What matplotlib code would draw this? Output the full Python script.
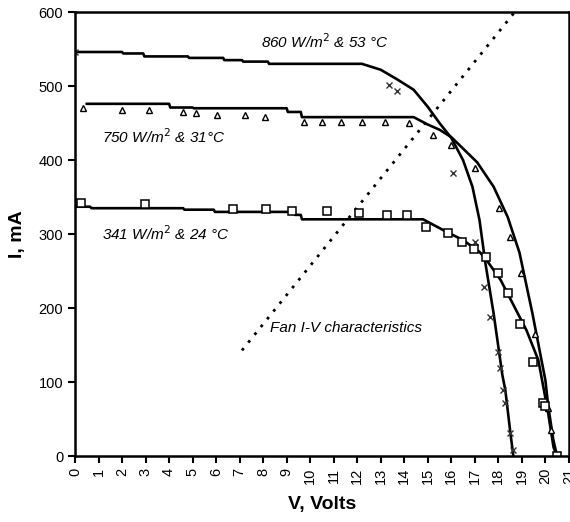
import matplotlib
matplotlib.use("Agg")
import matplotlib.pyplot as plt

plt.rcParams['font.family'] = ['Liberation Sans', 'DejaVu Sans']

# 860 W/m2 & 53 C : model line and measured points (x)
v_860 = [0, 2.0, 2.05, 2.9, 2.95, 4.8, 4.85, 6.3, 6.35, 7.1, 7.15, 8.2, 8.25, 12.2,
         13.0, 13.7, 14.4, 15.0, 15.5, 16.0, 16.5, 16.9, 17.2, 17.45, 17.8, 18.17,
         18.3, 18.5, 18.64]
i_860 = [546, 546, 544, 544, 540, 540, 538, 538, 535, 535, 533, 533, 530, 530,
         522, 509, 495, 472, 450, 430, 400, 364, 319, 261, 193, 110,
         89, 35, 0]
v_860_pts = [0, 13.36, 13.7, 16.09, 17.02, 17.4, 17.66, 18.0, 18.09, 18.21, 18.3, 18.51, 18.64]
i_860_pts = [546, 501, 493, 382, 289, 228, 188, 141, 119, 89, 72, 32, 8]

# 750 W/m2 & 31 C
v_750 = [0.5, 4.0, 4.05, 5.0, 5.05, 9.0, 9.05, 9.6, 9.65, 14.4, 15.0, 15.5, 16.0,
         17.1, 17.8, 18.4, 18.9, 19.45, 20.0, 20.13, 20.34, 20.5]
i_750 = [476, 476, 471, 471, 470, 470, 465, 465, 458, 458, 448, 441, 431,
         397, 364, 323, 275, 193, 103, 66, 22, 0]
v_750_pts = [0.34, 2.0, 3.15, 4.6, 5.15, 6.04, 7.23, 8.09, 9.74, 10.5, 11.3, 12.2,
             13.2, 14.2, 15.23, 16.0, 17.02, 18.04, 18.5, 18.98, 19.57, 20.1, 20.25]
i_750_pts = [470, 468, 468, 465, 463, 461, 461, 458, 451, 451, 451, 451,
             451, 450, 434, 420, 389, 335, 296, 247, 165, 65, 35]

# 341 W/m2 & 24 C
v_341 = [0, 0.64, 0.7, 4.6, 4.65, 5.9, 5.95, 9.3, 9.35, 9.6, 9.65, 14.8,
         15.8, 16.5, 17.2, 17.5, 18.1, 18.6, 19.2, 19.7, 20.1, 20.35, 20.5]
i_341 = [337, 337, 335, 335, 333, 333, 330, 330, 326, 326, 320, 320,
         303, 292, 276, 265, 238, 207, 170, 130, 62, 12, 0]
v_341_pts = [0.26, 2.98, 6.72, 8.13, 9.23, 10.72, 12.09, 13.28, 14.13, 14.94, 15.87,
             16.47, 16.98, 17.49, 18.0, 18.43, 18.94, 19.49, 19.91, 20.0, 20.51]
i_341_pts = [342, 341, 334, 334, 331, 331, 329, 326, 326, 310, 301,
             290, 280, 269, 247, 220, 178, 127, 72, 68, 0]

# fan I-V characteristic (dotted)
v_fan = [7.1, 18.7]
i_fan = [143, 600]

fig = plt.figure(figsize=(5.7, 5.22), dpi=100)
ax = fig.add_axes([0.1316, 0.126, 0.8664, 0.851])

ax.plot(v_fan, i_fan, color='black', linestyle=(0, (1, 2.6)), linewidth=2.0)

ax.plot(v_860, i_860, color='black', linewidth=1.9)
ax.plot(v_750, i_750, color='black', linewidth=1.9)
ax.plot(v_341, i_341, color='black', linewidth=1.9)

ax.plot(v_860_pts, i_860_pts, linestyle='none', marker='x', markersize=5,
        markeredgewidth=1.0, color='#333333')
ax.plot(v_750_pts, i_750_pts, linestyle='none', marker='^', markersize=4.5,
        markerfacecolor='white', markeredgecolor='black', markeredgewidth=1.0)
ax.plot(v_341_pts, i_341_pts, linestyle='none', marker='s', markersize=5.5,
        markerfacecolor='white', markeredgecolor='black', markeredgewidth=1.1)

ax.text(7.9, 560, r'860 W/m$^2$ & 53 °C', fontsize=11, style='italic', va='center')
ax.text(1.15, 431, r'750 W/m$^2$ & 31°C', fontsize=11, style='italic', va='center')
ax.text(1.15, 301, r'341 W/m$^2$ & 24 °C', fontsize=11, style='italic', va='center')
ax.text(8.3, 173, 'Fan I-V characteristics', fontsize=11, style='italic', va='center')

ax.set_xlim(0, 21)
ax.set_ylim(0, 600)
ax.set_xticks(range(0, 22))
ax.set_xticklabels([str(v) for v in range(0, 22)], rotation=90)
ax.set_yticks(range(0, 601, 100))
ax.tick_params(axis='both', direction='out', length=5, width=1.5, labelsize=10.5)
for s in ax.spines.values():
    s.set_linewidth(1.8)

ax.set_xlabel('V, Volts', fontsize=14, fontweight='bold', labelpad=8)
ax.set_ylabel('I, mA', fontsize=14, fontweight='bold', labelpad=9)

plt.savefig('out.png', dpi=100)
